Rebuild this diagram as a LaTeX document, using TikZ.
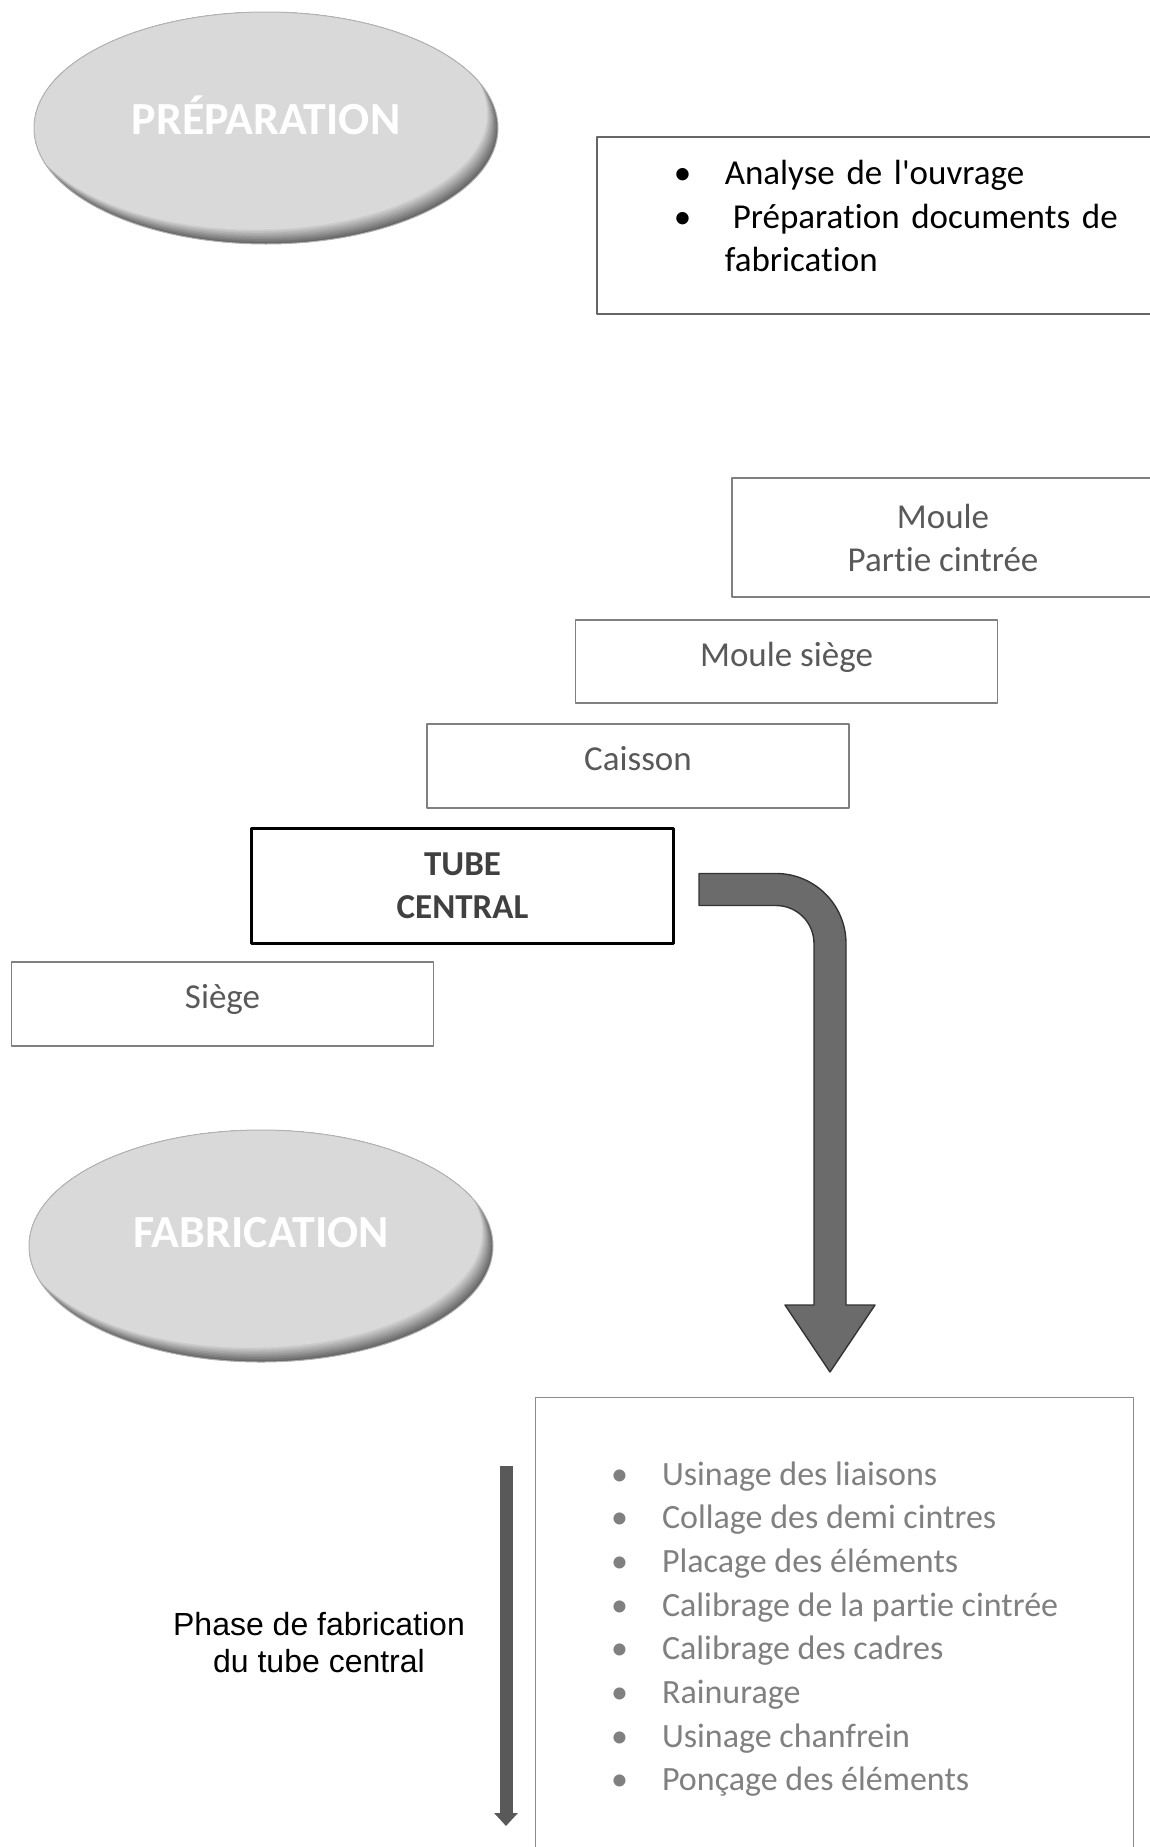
\documentclass[tikz,border=0pt]{standalone}
\usepackage{fontspec}
\newfontfamily\carlito{Carlito}[Ligatures=NoCommon]
\newfontfamily\arialfont{Liberation Sans}
\usetikzlibrary{shapes.geometric,arrows.meta}

\begin{document}
\carlito
\begin{tikzpicture}[x=0.5pt,y=-0.5pt,line join=round,
	phase/.style={ellipse,minimum width=232pt,minimum height=116pt,draw=black!30,line width=0.5pt,
		path picture={\foreach \k in {0,...,9}{\pgfmathtruncatemacro\c{60-5*\k}
				\fill[black!\c] ([shift={({-0.6pt*\k},{0.8pt*\k})}]path picture bounding box.center) ellipse[x radius=116pt,y radius=58pt];}}},
	phaselabel/.style={text=white,font=\bfseries\fontsize{23}{27}\selectfont},
	notebox/.style={draw=black!60,line width=0.8pt,align=left,font=\fontsize{17.5}{21.75}\selectfont},
	stepbox/.style={draw=black!50,line width=0.8pt,minimum width=211pt,align=center,text=black!65,font=\fontsize{17.5}{21.5}\selectfont},
	oneline/.style={text height=12pt,text depth=7.5pt},
	tubebox/.style={stepbox,draw=black,line width=1.5pt,text=black!75,font=\bfseries\fontsize{17.5}{21.5}\selectfont},
	listbox/.style={draw=black!45,line width=0.6pt,align=left,text=black!50,font=\fontsize{17}{21.85}\selectfont},
	bigarrow/.style={fill=black!58,draw=black!80,line width=0.7pt},
	phasearrow/.style={line width=6.5pt,draw=black!65,-{Triangle[length=6.5pt,width=11.5pt]}},
	phasenote/.style={align=center,font=\arialfont\fontsize{16}{18.5}\selectfont}]
	\def\blt{\makebox[25.5pt][l]{\textbullet}}
	\useasboundingbox (0,0) rectangle (1150,1847);
	\clip (0,0) rectangle (1150,1847);
	% preparation
	\node[phase] (prep) at (266,128) {};
	\node[phaselabel] at ([yshift=6.25pt]prep.center) {PRÉPARATION};
	\node[notebox,anchor=north west,minimum height=88.5pt,text width=230pt,inner xsep=38.5pt] (analyse) at (596,136)
		{\blt Analyse de l'ouvrage\\ \blt\hspace{4pt}Préparation documents de\\ \hspace*{25.5pt}fabrication\par\nointerlineskip\vspace*{9pt}\hbox{}};
	% stairs
	\node[stepbox,minimum height=59.5pt] (moule) at (943,537.5) {Moule\\Partie cintrée};
	\node[stepbox,oneline,minimum height=41.5pt] (moulesiege) at (786.5,661.5) {Moule siège};
	\node[stepbox,oneline,minimum height=42pt] (caisson) at (638,766) {Caisson};
	\node[tubebox,minimum height=57.5pt] (tube) at (462.5,885.5) {TUBE\\CENTRAL};
	\node[stepbox,oneline,minimum height=42pt] (siege) at (222.5,1004) {Siège};
	% fabrication
	\node[phase] (fab) at (261,1246) {};
	\node[phaselabel] at ([yshift=6.5pt]fab.center) {FABRICATION};
	\coordinate (bend0) at ([xshift=12pt,yshift=-2pt]tube.east);
	\filldraw[bigarrow] ([yshift=8pt]bend0) -- ++(77,0) arc[start angle=270,end angle=360,radius=70]
		-- ++(0,361.5) -- ++(29,0) -- ++(-45,67) -- ++(-45,-67) -- ++(29,0) -- ++(0,-361.5)
		arc[start angle=0,end angle=-90,radius=38] -- ++(-77,0) -- cycle;
	\node[listbox,anchor=north west,minimum width=299pt,minimum height=231.5pt] (list) at (535,1397)
		{\blt Usinage des liaisons\\ \blt Collage des demi cintres\\ \blt Placage des éléments\\
		 \blt Calibrage de la partie cintrée\\ \blt Calibrage des cadres\\ \blt Rainurage\\
		 \blt Usinage chanfrein\\ \blt Ponçage des éléments};
	\coordinate (ph0) at (506,1466);
	\coordinate (ph1) at (506,1826);
	\draw[phasearrow] (ph0) -- (ph1);
	\node[phasenote] (phase) at (319,1642.5) {Phase de fabrication\\du tube central};
\end{tikzpicture}
\end{document}
